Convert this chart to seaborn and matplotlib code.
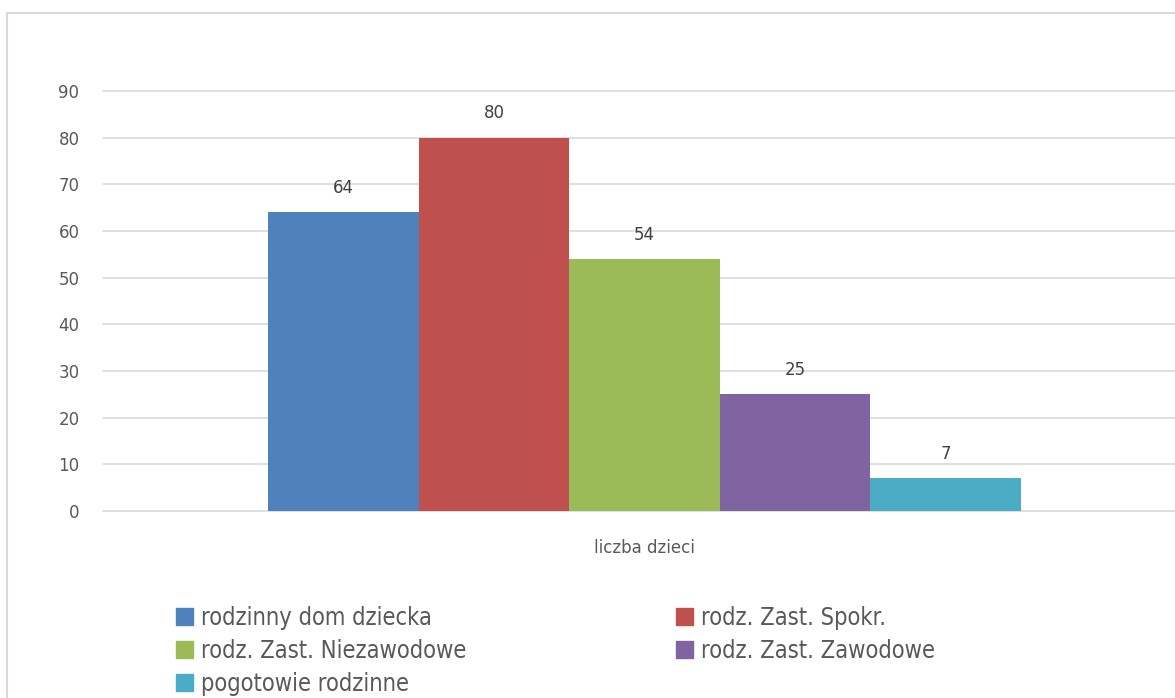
"""
Clustered bar chart: liczba dzieci by form of foster care
"""

import matplotlib
matplotlib.use("Agg")
import matplotlib.pyplot as plt
import matplotlib.patches as mpatches
import seaborn as sns
import pandas as pd

categories = ["liczba dzieci"]
series = [
    "rodzinny dom dziecka",
    "rodz. Zast. Spokr.",
    "rodz. Zast. Niezawodowe",
    "rodz. Zast. Zawodowe",
    "pogotowie rodzinne",
]
values = [64, 80, 54, 25, 7]
colors = ["#4F81BD", "#C0504D", "#9BBB59", "#8064A2", "#4BACC6"]
yticks = [0, 10, 20, 30, 40, 50, 60, 70, 80, 90]


def main():
    sns.set_style("white")
    plt.rcParams["font.family"] = ["DejaVu Sans"]

    df = pd.DataFrame({
        "kategoria": categories * len(series),
        "seria": series,
        "wartosc": values,
    })

    W, H = 1175, 698
    fig = plt.figure(figsize=(W / 100, H / 100), dpi=100)
    ax = fig.add_axes([103 / W, 1 - 511 / H, (1186 - 103) / W, (511 - 91) / H])

    sns.barplot(
        data=df, x="kategoria", y="wartosc", hue="seria",
        palette=colors, width=0.695, saturation=1, linewidth=0,
        ax=ax, legend=False,
    )

    for cont in ax.containers:
        ax.bar_label(cont, padding=11, fontsize=12, color="#404040")

    ax.set_ylim(0, 90)
    ax.set_yticks(yticks)
    ax.set_xlim(-0.5, 0.5)
    ax.set_xlabel("")
    ax.set_ylabel("")
    ax.yaxis.grid(True, color="#d9d9d9", linewidth=1.2)
    for gl in ax.get_ygridlines():
        gl.set_clip_on(False)
    ax.set_axisbelow(True)
    for s in ax.spines.values():
        s.set_visible(False)
    ax.tick_params(axis="y", length=0, pad=17, labelsize=12, labelcolor="#595959")
    ax.tick_params(axis="x", length=0, pad=20, labelsize=12, labelcolor="#595959")

    # legend: row-wise order in 2 columns -> reorder for column-first fill
    order = [0, 2, 4, 1, 3]
    handles = [mpatches.Patch(color=colors[i]) for i in order]
    labels = [series[i] for i in order]
    fig.legend(
        handles, labels, ncol=2, loc="upper left",
        bbox_to_anchor=(176 / W, 1 - 606 / H),
        frameon=False, handlelength=0.7, handleheight=0.7, handletextpad=0.35,
        columnspacing=8.9, labelspacing=0.38, borderpad=0, borderaxespad=0,
        prop={"family": "DejaVu Sans", "stretch": "condensed", "size": 17},
        labelcolor="#595959",
    )

    # chart area border (cropped at right and bottom)
    fig.add_artist(mpatches.Rectangle(
        (7 / W, -0.1), 2, 1 - 13 / H + 0.1, transform=fig.transFigure,
        fill=False, edgecolor="#d9d9d9", linewidth=1.5,
    ))

    fig.savefig("out.png", dpi=100)
    plt.close(fig)


if __name__ == "__main__":
    main()
